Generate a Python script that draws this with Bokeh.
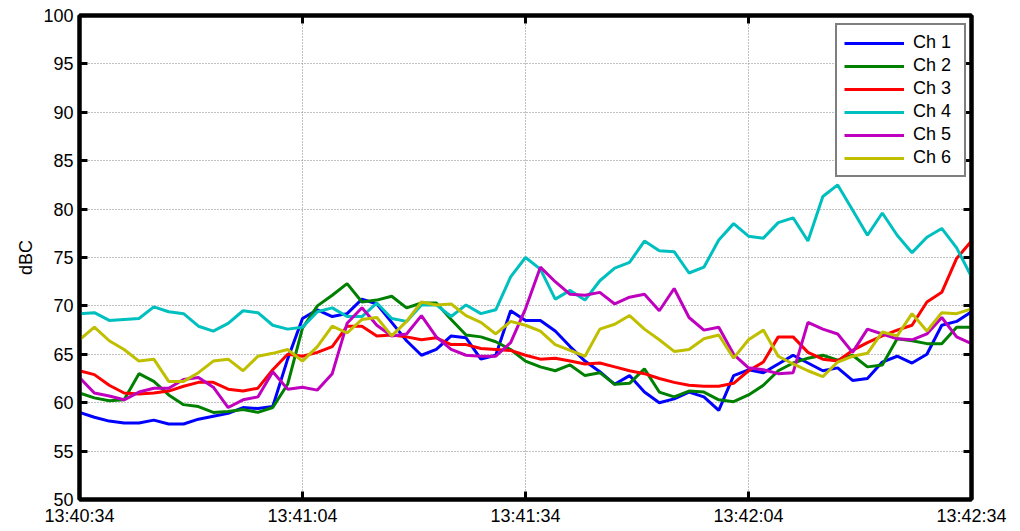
from bokeh.plotting import figure
from bokeh.models import LinearAxis, FixedTicker, Range1d, Legend, LegendItem
from bokeh.embed import file_html
from bokeh.resources import INLINE

# Sample clock: seconds after 13:40:34, one reading every 2 s
seconds = list(range(0, 121, 2))
tick_seconds = [0, 30, 60, 90, 120]
tick_labels = ["13:40:34", "13:41:04", "13:41:34", "13:42:04", "13:42:34"]
level_ticks = list(range(50, 101, 5))

ch1 = [59.0, 58.5, 58.1, 57.9, 57.9, 58.2, 57.8, 57.8, 58.3, 58.6,
       58.9, 59.5, 59.4, 59.6, 64.5, 68.7, 69.6, 68.9, 69.2, 70.7,
       70.2, 68.3, 66.4, 64.9, 65.5, 66.9, 66.7, 64.5, 64.9, 69.5,
       68.5, 68.5, 67.4, 65.8, 64.3, 63.2, 61.9, 62.8, 61.1, 60.0,
       60.4, 61.1, 60.6, 59.2, 62.8, 63.4, 63.1, 64.0, 64.9, 64.1,
       63.3, 63.6, 62.3, 62.5, 64.2, 64.8, 64.1, 65.0, 68.0, 68.4,
       69.4]
ch2 = [61.0, 60.5, 60.2, 60.3, 63.0, 62.2, 60.8, 59.8, 59.6, 59.0,
       59.1, 59.3, 59.0, 59.5, 61.9, 67.7, 70.0, 71.1, 72.3, 70.4,
       70.6, 71.0, 69.8, 70.3, 70.3, 68.6, 67.0, 66.8, 66.3, 65.5,
       64.3, 63.7, 63.3, 63.9, 62.8, 63.1, 61.9, 62.0, 63.5, 61.1,
       60.6, 61.2, 61.1, 60.3, 60.1, 60.8, 61.8, 63.3, 64.1, 64.6,
       64.9, 64.4, 64.9, 63.7, 63.9, 66.6, 66.4, 66.1, 66.1, 67.8,
       67.8]
ch3 = [63.3, 62.9, 61.8, 61.0, 60.9, 61.0, 61.2, 61.7, 62.1, 62.1,
       61.4, 61.2, 61.5, 63.4, 65.0, 64.8, 65.2, 65.8, 67.9, 67.9,
       66.9, 67.0, 66.8, 66.5, 66.7, 66.0, 66.0, 65.6, 65.5, 65.4,
       64.9, 64.5, 64.6, 64.3, 64.0, 64.1, 63.7, 63.3, 63.0, 62.5,
       62.1, 61.8, 61.7, 61.7, 62.0, 63.3, 64.2, 66.8, 66.8, 65.2,
       64.5, 64.3, 65.4, 66.2, 66.9, 67.5, 68.0, 70.4, 71.4, 74.9,
       76.7]
ch4 = [69.2, 69.3, 68.5, 68.6, 68.7, 69.9, 69.4, 69.2, 67.9, 67.4,
       68.2, 69.5, 69.3, 68.0, 67.6, 67.8, 69.4, 69.8, 68.9, 68.9,
       70.3, 68.7, 68.4, 70.1, 70.1, 68.9, 70.1, 69.2, 69.6, 73.0,
       75.0, 73.8, 70.7, 71.6, 70.6, 72.6, 73.9, 74.5, 76.7, 75.7,
       75.6, 73.4, 74.0, 76.8, 78.5, 77.2, 77.0, 78.6, 79.1, 76.7,
       81.3, 82.5, 79.9, 77.3, 79.6, 77.3, 75.5, 77.1, 78.0, 76.0,
       73.0]
ch5 = [62.6, 61.0, 60.7, 60.3, 61.1, 61.5, 61.5, 62.4, 62.6, 61.6,
       59.5, 60.3, 60.6, 63.2, 61.4, 61.6, 61.3, 63.0, 68.2, 69.8,
       68.0, 66.9, 67.1, 69.0, 66.8, 65.5, 64.9, 64.8, 64.8, 66.2,
       69.7, 74.0, 72.5, 71.2, 71.1, 71.4, 70.2, 70.9, 71.2, 69.5,
       71.8, 68.8, 67.5, 67.8, 65.0, 63.6, 63.4, 63.0, 63.1, 68.3,
       67.6, 67.1, 65.2, 67.6, 67.1, 66.6, 66.5, 67.1, 68.8, 66.8,
       66.1]
ch6 = [66.5, 67.8, 66.4, 65.5, 64.3, 64.5, 62.2, 62.2, 63.1, 64.3,
       64.5, 63.3, 64.8, 65.1, 65.5, 64.3, 65.8, 67.9, 67.2, 68.6,
       68.8, 66.9, 68.4, 70.4, 70.1, 70.2, 69.0, 68.3, 67.1, 68.4,
       68.0, 67.4, 66.0, 65.4, 64.8, 67.6, 68.1, 69.0, 67.6, 66.5,
       65.3, 65.5, 66.6, 67.0, 64.6, 66.5, 67.5, 64.8, 64.0, 63.3,
       62.7, 64.2, 64.8, 65.1, 67.3, 66.9, 69.2, 67.4, 69.3, 69.2,
       69.7]

channel_names = ["Ch 1", "Ch 2", "Ch 3", "Ch 4", "Ch 5", "Ch 6"]
channel_values = [ch1, ch2, ch3, ch4, ch5, ch6]
channel_colors = ["#0000ff", "#008000", "#ff0000", "#00bfbf", "#bf00bf", "#bfbf00"]

FONT = "Liberation Sans"

p = figure(width=1020, height=531, output_backend="svg", toolbar_location=None,
           x_range=Range1d(0, 120), y_range=Range1d(50, 100),
           min_border_left=79, min_border_right=49, min_border_top=15,
           min_border_bottom=32, background_fill_color="white",
           border_fill_color="white")

p.outline_line_color = "black"
p.outline_line_width = 4

# Primary axes
p.xaxis.ticker = FixedTicker(ticks=tick_seconds)
p.xaxis.major_label_overrides = {s: lab for s, lab in zip(tick_seconds, tick_labels)}
p.yaxis.ticker = FixedTicker(ticks=level_ticks)
p.yaxis.axis_label = "dBC"

for ax in (p.xaxis[0], p.yaxis[0]):
    ax.axis_line_width = 4
    ax.axis_line_color = "black"
    ax.major_tick_in = 8
    ax.major_tick_out = 0
    ax.major_tick_line_width = 3
    ax.minor_tick_line_color = None
    ax.major_label_text_font = FONT
    ax.major_label_text_font_size = "18px"
    ax.major_label_text_color = "black"
    ax.axis_label_text_font = FONT
    ax.axis_label_text_font_size = "18px"
    ax.axis_label_text_font_style = "normal"
    ax.axis_label_text_color = "black"
p.xaxis.major_label_standoff = 6
p.yaxis.major_label_standoff = 6
p.yaxis.axis_label_standoff = 4

# Box ticks on the top and right edges (no labels there)
top_axis = LinearAxis(ticker=FixedTicker(ticks=tick_seconds))
right_axis = LinearAxis(ticker=FixedTicker(ticks=level_ticks))
for ax in (top_axis, right_axis):
    ax.axis_line_width = 4
    ax.major_tick_in = 8
    ax.major_tick_out = 0
    ax.major_tick_line_width = 3
    ax.minor_tick_line_color = None
    ax.major_label_text_color = None
    ax.major_label_text_font_size = "1px"
    ax.major_label_standoff = 0
p.add_layout(top_axis, "above")
p.add_layout(right_axis, "right")

# Dotted grid
for g in (p.xgrid[0], p.ygrid[0]):
    g.grid_line_color = "#858585"
    g.grid_line_dash = "1 2"
    g.grid_line_width = 1

items = []
for name, vals, col in zip(channel_names, channel_values, channel_colors):
    r = p.line(seconds, vals, line_color=col, line_width=3)
    items.append(LegendItem(label=name, renderers=[r]))

legend = Legend(items=items, location=(756, 322))
legend.border_line_color = "black"
legend.border_line_width = 2
legend.background_fill_color = "white"
legend.background_fill_alpha = 1
legend.label_text_font = FONT
legend.label_text_font_size = "18px"
legend.label_text_color = "black"
legend.glyph_width = 60
legend.glyph_height = 20
legend.label_height = 20
legend.label_width = 44
legend.spacing = 2
legend.padding = 7
legend.margin = 0
legend.label_standoff = 9
p.add_layout(legend, "center")

open("out.html", "w").write(file_html(p, INLINE))
